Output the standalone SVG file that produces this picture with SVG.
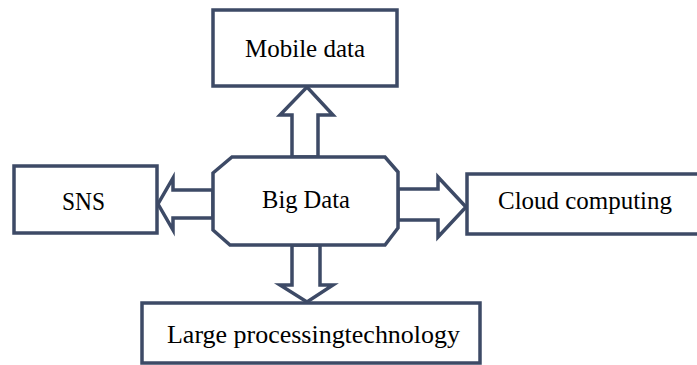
<svg xmlns="http://www.w3.org/2000/svg" width="697" height="365" viewBox="0 0 697 365">
<style>
.box{fill:#fff;stroke:#3d4a66;stroke-width:3.5}
.arr{fill:#fff;stroke:#3d4a66;stroke-width:3.5;stroke-linejoin:miter}
.t{font-family:"Liberation Serif","Times New Roman",serif;font-size:25px;fill:#000}
</style>
<rect width="697" height="365" fill="#fff"/>
<g id="connectors">
<polygon class="arr" points="292,157 292,115 280,115 307,87 333,115 318,115 318,157"/>
<polygon class="arr" points="213,190 173,190 173,178 158,204 173,230 173,218 213,218"/>
<polygon class="arr" points="398,189 438,189 438,177 466,207 438,237 438,220 398,220"/>
<polygon class="arr" points="292,245 292,285 280,285 307,302 333,285 320,285 320,245"/>
</g>
<g id="mobile">
<rect class="box" x="213" y="10" width="184" height="76"/>
<text class="t" x="245" y="57" textLength="120" lengthAdjust="spacingAndGlyphs">Mobile data</text>
</g>
<g id="bigdata">
<polygon class="box" points="232,157 385,157 398,172 398,228 385,245 230,245 213,230 213,173"/>
<text class="t" x="262" y="208" textLength="88" lengthAdjust="spacingAndGlyphs">Big Data</text>
</g>
<g id="sns">
<rect class="box" x="14" y="166" width="143" height="67"/>
<text class="t" x="62" y="210" textLength="43" lengthAdjust="spacingAndGlyphs">SNS</text>
</g>
<g id="cloud">
<rect class="box" x="467" y="174" width="240" height="60"/>
<text class="t" x="498" y="209" textLength="174" lengthAdjust="spacingAndGlyphs">Cloud computing</text>
</g>
<g id="large">
<rect class="box" x="142" y="303" width="338" height="60"/>
<text class="t" x="167" y="343" textLength="293" lengthAdjust="spacingAndGlyphs">Large processingtechnology</text>
</g>
</svg>
